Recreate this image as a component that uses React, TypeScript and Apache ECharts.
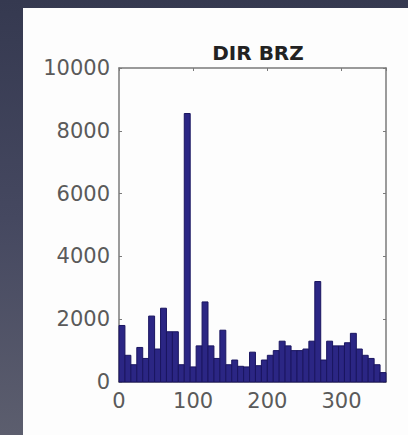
import React, { useEffect, useRef } from "react";
import * as echarts from "echarts";

const chartTitle = "DIR BRZ";
const binWidth = 8;
const binCounts = [
  1800, 850, 550, 1100, 750, 2100, 1050, 2350, 1600, 1600,
  550, 8550, 480, 1150, 2550, 1150, 750, 1650, 550, 700,
  500, 480, 950, 520, 700, 850, 1000, 1300, 1150, 1000,
  1000, 1050, 1300, 3200, 700, 1300, 1150, 1150, 1250, 1550,
  1050, 850, 750, 550, 300,
];
const xMin = 0;
const xMax = 360;
const xStep = 100;
const yMin = 0;
const yMax = 10000;
const yStep = 2000;

export default function App() {
  const ref = useRef<HTMLDivElement>(null);
  useEffect(() => {
    if (!ref.current) return;
    const chart = echarts.init(ref.current, undefined, { renderer: "svg" });
    const data = binCounts.map((v, i) => [i * binWidth, (i + 1) * binWidth, v]);
    const axisLine = { show: true, onZero: false, lineStyle: { color: "#7a7a7a", width: 1.5 } };
    const tick = { show: true, inside: true, length: 3, lineStyle: { color: "#7a7a7a" } };
    const labelStyle = { color: "#5a5a5a", fontSize: 21, fontFamily: "DejaVu Sans" };
    chart.setOption({
      animation: false,
      backgroundColor: "transparent",
      title: {
        text: chartTitle,
        left: 253,
        textAlign: "center",
        top: 38,
        textStyle: { color: "#222", fontSize: 20, fontWeight: "bold", fontFamily: "DejaVu Sans" },
      },
      grid: { left: 119, right: 22, top: 68, bottom: 53 },
      xAxis: [
        {
          type: "value", min: xMin, max: xMax, interval: xStep, position: "bottom",
          axisLine, axisTick: tick, splitLine: { show: false },
          axisLabel: { ...labelStyle, margin: 8, showMaxLabel: false,
            formatter: (v: number) => (v % xStep === 0 ? String(v) : "") },
        },
        {
          type: "value", min: xMin, max: xMax, interval: xStep, position: "top",
          axisLine, axisTick: tick, splitLine: { show: false }, axisLabel: { show: false },
        },
      ],
      yAxis: [
        {
          type: "value", min: yMin, max: yMax, interval: yStep, position: "left",
          axisLine, axisTick: tick, splitLine: { show: false },
          axisLabel: { ...labelStyle, margin: 9, formatter: (v: number) => String(v) },
        },
        {
          type: "value", min: yMin, max: yMax, interval: yStep, position: "right",
          axisLine, axisTick: tick, splitLine: { show: false }, axisLabel: { show: false },
        },
      ],
      series: [
        {
          type: "custom",
          xAxisIndex: 0,
          yAxisIndex: 0,
          data,
          encode: { x: [0, 1], y: 2 },
          renderItem: (params: any, api: any) => {
            const p0 = api.coord([api.value(0), api.value(2)]);
            const p1 = api.coord([api.value(1), 0]);
            return {
              type: "rect",
              shape: { x: p0[0], y: p0[1], width: p1[0] - p0[0], height: p1[1] - p0[1] },
              style: { fill: "#2b2684", stroke: "#1a1560", lineWidth: 1 },
            };
          },
        },
      ],
    });
    return () => chart.dispose();
  }, []);
  return (
    <div
      style={{
        position: "fixed", left: 0, top: 0, width: 408, height: 435,
        background: "linear-gradient(180deg, #353950 0%, #454860 50%, #5c5e6e 100%)",
        overflow: "hidden",
      }}
    >
      <div style={{ position: "absolute", left: 23, top: 8, width: 385, height: 427, background: "#fdfdfd" }} />
      <div ref={ref} style={{ position: "absolute", left: 0, top: 0, width: 408, height: 435 }} />
    </div>
  );
}
